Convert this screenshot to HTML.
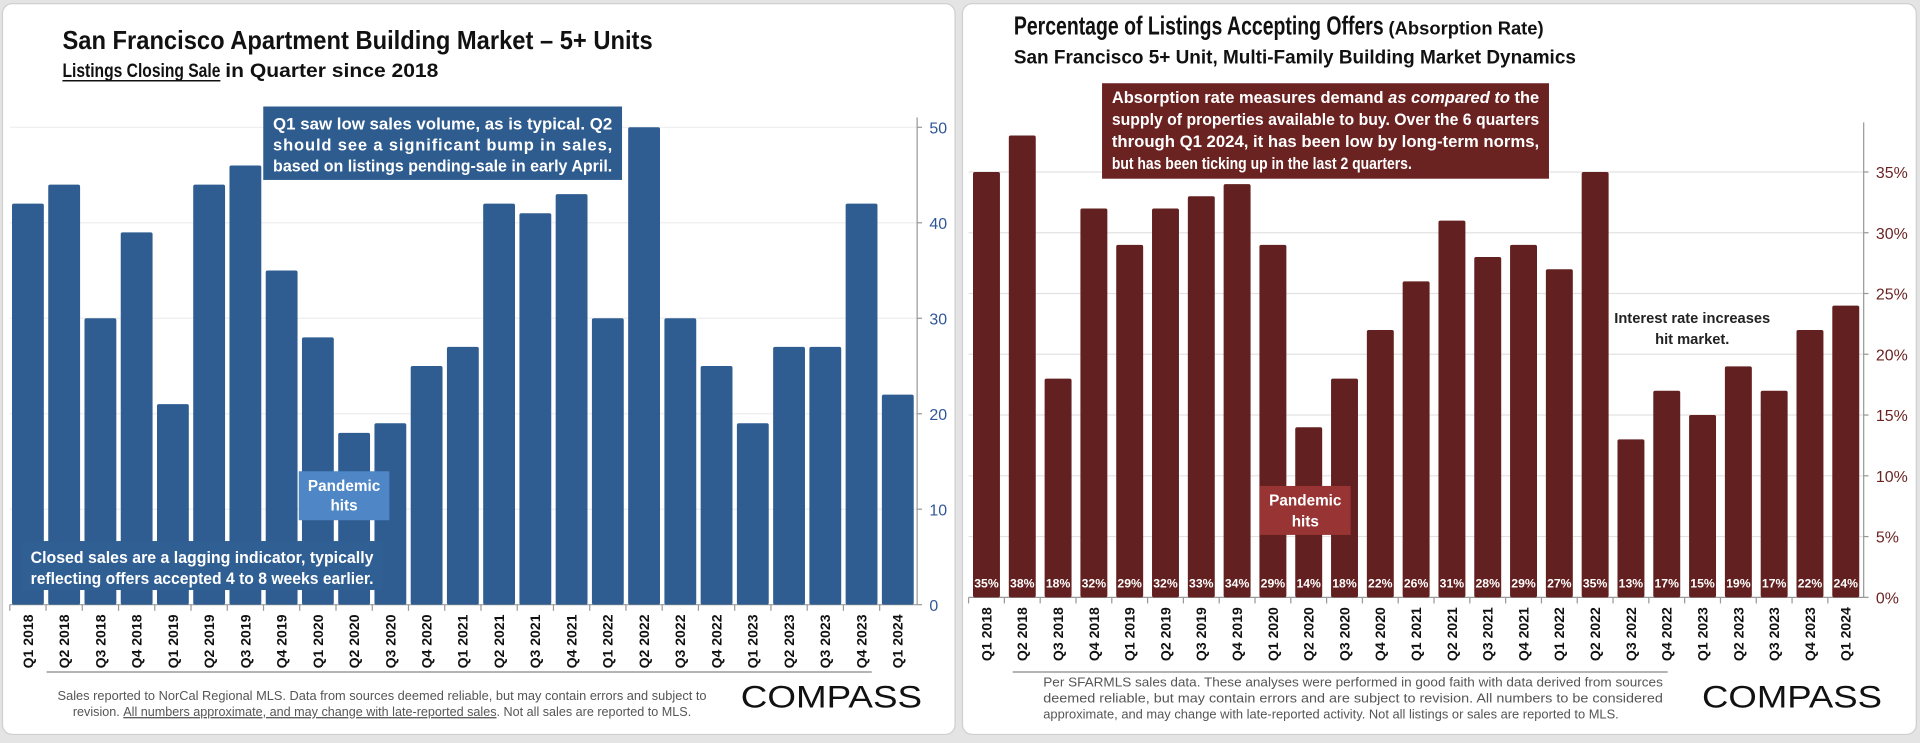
<!DOCTYPE html>
<html><head><meta charset="utf-8">
<style>
html,body{margin:0;padding:0;background:#e4e4e4;}
svg{display:block;}
text{font-family:"Liberation Sans Narrow","Liberation Sans",sans-serif;}
</style></head>
<body>
<svg id="root" width="1920" height="743" viewBox="0 0 1568 607" preserveAspectRatio="none" xmlns="http://www.w3.org/2000/svg">
<rect x="0" y="0" width="1568" height="607" fill="#e4e4e4"/>
<rect x="2" y="3" width="778" height="597" rx="8" fill="#ffffff" stroke="#cfcfcf"/>
<rect x="786" y="3" width="779" height="597" rx="8" fill="#ffffff" stroke="#cfcfcf"/>

<!-- left titles -->
<text x="51" y="40" font-size="21" font-weight="bold" fill="#111" textLength="482" lengthAdjust="spacingAndGlyphs">San Francisco Apartment Building Market – 5+ Units</text>
<g>
<text x="51" y="63" font-size="16" font-weight="bold" fill="#111" textLength="129" lengthAdjust="spacingAndGlyphs">Listings Closing Sale</text>
<text x="184" y="63" font-size="16" font-weight="bold" fill="#111" textLength="174" lengthAdjust="spacingAndGlyphs">in Quarter since 2018</text>
</g>
<line x1="51" y1="66" x2="180" y2="66" stroke="#111" stroke-width="1.2"/>

<g id="leftChart"></g>
<g id="rightChart"></g>

<!-- left annotations -->
<g>
<rect x="215" y="87" width="293" height="60" fill="#2f5c8f"/>
<text x="223" y="106" font-size="13.5" font-weight="bold" fill="#fff" textLength="277" lengthAdjust="spacingAndGlyphs">Q1 saw low sales volume, as is typical. Q2</text>
<text x="223" y="123" font-size="13.5" font-weight="bold" fill="#fff" textLength="277" lengthAdjust="spacing">should see a significant bump in sales,</text>
<text x="223" y="140" font-size="13.5" font-weight="bold" fill="#fff" textLength="277" lengthAdjust="spacingAndGlyphs">based on listings pending-sale in early April.</text>
</g>
<g>
<rect x="244" y="385" width="74" height="40" fill="#4f86c6"/>
<text x="281" y="401" font-size="12.5" font-weight="bold" fill="#fff" text-anchor="middle">Pandemic</text>
<text x="281" y="417" font-size="12.5" font-weight="bold" fill="#fff" text-anchor="middle">hits</text>
</g>
<g>
<rect x="18" y="442" width="295" height="40" fill="#305f93"/>
<text x="25" y="460" font-size="13.5" font-weight="bold" fill="#fff" textLength="280" lengthAdjust="spacingAndGlyphs">Closed sales are a lagging indicator, typically</text>
<text x="25" y="477" font-size="13.5" font-weight="bold" fill="#fff" textLength="280" lengthAdjust="spacingAndGlyphs">reflecting offers accepted 4 to 8 weeks earlier.</text>
</g>

<!-- left footer -->
<line x1="38" y1="549" x2="712" y2="549" stroke="#888" stroke-width="1"/>
<text x="312" y="572" font-size="10.5" fill="#555" text-anchor="middle" textLength="530" lengthAdjust="spacingAndGlyphs">Sales reported to NorCal Regional MLS. Data from sources deemed reliable, but may contain errors and subject to</text>
<text x="312" y="585" font-size="10.5" fill="#555" text-anchor="middle" textLength="505" lengthAdjust="spacingAndGlyphs">revision. <tspan text-decoration="underline">All numbers approximate, and may change with late-reported sales</tspan>. Not all sales are reported to MLS.</text>
<text x="605" y="578" font-size="26" fill="#111" font-family="Liberation Sans, sans-serif" textLength="148" lengthAdjust="spacingAndGlyphs">COMPASS</text>

<!-- right titles -->
<text x="828" y="28" font-size="21" font-weight="bold" fill="#111"><tspan textLength="302" lengthAdjust="spacingAndGlyphs">Percentage of Listings Accepting Offers</tspan><tspan font-size="15" dx="4">(Absorption Rate)</tspan></text>
<text x="828" y="52" font-size="15.5" font-weight="bold" fill="#111" textLength="459" lengthAdjust="spacingAndGlyphs">San Francisco 5+ Unit, Multi-Family Building Market Dynamics</text>

<g>
<rect x="900" y="68" width="365" height="78" fill="#6b2322"/>
<text x="908" y="84" font-size="13.5" font-weight="bold" fill="#fff" textLength="349" lengthAdjust="spacingAndGlyphs">Absorption rate measures demand <tspan font-style="italic">as compared to</tspan> the</text>
<text x="908" y="102" font-size="13.5" font-weight="bold" fill="#fff" textLength="349" lengthAdjust="spacingAndGlyphs">supply of properties available to buy. Over the 6 quarters</text>
<text x="908" y="120" font-size="13.5" font-weight="bold" fill="#fff" textLength="349" lengthAdjust="spacingAndGlyphs">through Q1 2024, it has been low by long-term norms,</text>
<text x="908" y="138" font-size="13.5" font-weight="bold" fill="#fff" textLength="245" lengthAdjust="spacingAndGlyphs">but has been ticking up in the last 2 quarters.</text>
</g>
<g>
<rect x="1029" y="397" width="74" height="40" fill="#993434"/>
<text x="1066" y="413" font-size="12.5" font-weight="bold" fill="#fff" text-anchor="middle">Pandemic</text>
<text x="1066" y="430" font-size="12.5" font-weight="bold" fill="#fff" text-anchor="middle">hits</text>
</g>
<g>
<text x="1382" y="264" font-size="12" font-weight="bold" fill="#222" text-anchor="middle">Interest rate increases</text>
<text x="1382" y="281" font-size="12" font-weight="bold" fill="#222" text-anchor="middle">hit market.</text>
</g>

<line x1="827" y1="549" x2="1362" y2="549" stroke="#888" stroke-width="1"/>
<text x="852" y="561" font-size="10.5" fill="#555" textLength="506" lengthAdjust="spacingAndGlyphs">Per SFARMLS sales data. These analyses were performed in good faith with data derived from sources</text>
<text x="852" y="574" font-size="10.5" fill="#555" textLength="506" lengthAdjust="spacingAndGlyphs">deemed reliable, but may contain errors and are subject to revision. All numbers to be considered</text>
<text x="852" y="587" font-size="10.5" fill="#555" textLength="470" lengthAdjust="spacingAndGlyphs">approximate, and may change with late-reported activity. Not all listings or sales are reported to MLS.</text>
<text x="1390" y="578" font-size="26" fill="#111" font-family="Liberation Sans, sans-serif" textLength="147" lengthAdjust="spacingAndGlyphs">COMPASS</text>
</svg>

<script>
const quarters = ["Q1 2018","Q2 2018","Q3 2018","Q4 2018","Q1 2019","Q2 2019","Q3 2019","Q4 2019","Q1 2020","Q2 2020","Q3 2020","Q4 2020","Q1 2021","Q2 2021","Q3 2021","Q4 2021","Q1 2022","Q2 2022","Q3 2022","Q4 2022","Q1 2023","Q2 2023","Q3 2023","Q4 2023","Q1 2024"];
const salesCounts = [42,44,30,39,21,44,46,35,28,18,19,25,27,42,41,43,30,50,30,25,19,27,27,42,22];
const salesTicks = [0,10,20,30,40,50];
const absorptionRates = [35,38,18,32,29,32,33,34,29,14,18,22,26,31,28,29,27,35,13,17,15,19,17,22,24];
const rateTicks = [0,5,10,15,20,25,30,35];

const NS = "http://www.w3.org/2000/svg";
function mk(tag, attrs, parent){
  const e = document.createElementNS(NS, tag);
  for (const k in attrs) e.setAttribute(k, attrs[k]);
  parent.appendChild(e);
  return e;
}

function drawChart(g, cats, vals, ticks, cfg){
  const n = cats.length;
  const slot = (cfg.x1 - cfg.x0) / n;
  const xC = i => cfg.x0 + slot * (i + 0.5);
  const yS = v => cfg.yBase - v / cfg.vMax * (cfg.yBase - cfg.yTop);
  ticks.forEach(t => {
    if (t > 0) {
      const gl = mk("line", {x1: cfg.x0, x2: cfg.axisX, y1: yS(t), y2: yS(t), stroke: cfg.gridColor, "stroke-width": 1}, g);
      
      
    }
    const tk = mk("line", {x1: cfg.axisX, x2: cfg.axisX + 4, y1: yS(t), y2: yS(t), stroke: "#999", "stroke-width": 1}, g);
    
    
    const tl = mk("text", {x: cfg.axisX + 10, y: yS(t) + 5, "font-size": 13, fill: cfg.tickColor}, g);
    tl.textContent = t + cfg.suffix;
    
    
  });
  const ax = mk("line", {x1: cfg.axisX, x2: cfg.axisX, y1: cfg.axisTop, y2: cfg.yBase, stroke: "#999", "stroke-width": 1}, g);
  
  
  const bx = mk("line", {x1: cfg.x0, x2: cfg.axisX, y1: cfg.yBase, y2: cfg.yBase, stroke: "#999", "stroke-width": 1}, g);
  
  
  vals.forEach((v, i) => {
    const y = yS(v);
    const b = mk("rect", {x: xC(i) - cfg.barW / 2, y: y, width: cfg.barW, height: cfg.yBase - y, rx: 1.5, fill: cfg.barColor}, g);
    
    
    if (cfg.showValues) {
      const vl = mk("text", {x: xC(i), y: cfg.yBase - 8, "font-size": 10, "font-weight": "bold", fill: "#fff", "text-anchor": "middle"}, g);
      vl.textContent = v + "%";
      
      
    }
    const xt = mk("line", {x1: cfg.x0 + slot * i, x2: cfg.x0 + slot * i, y1: cfg.yBase, y2: cfg.yBase + 5, stroke: "#999"}, g);
    
    
    const lx = xC(i) + 4, ly = cfg.yBase + 8;
    const xl = mk("text", {x: lx, y: ly, "font-size": 11.5, "font-weight": "bold", fill: "#111", "text-anchor": "end", "font-family": "Liberation Sans, sans-serif", transform: "rotate(-90 " + lx + " " + ly + ")"}, g);
    xl.textContent = cats[i];
    
    
  });
}

drawChart(document.getElementById("leftChart"), quarters, salesCounts, salesTicks, {
  x0: 8, x1: 748, axisX: 749, axisTop: 96, yBase: 494, yTop: 104, vMax: 50,
  barW: 26, barColor: "#2f5d91", gridColor: "#eeeeee", tickColor: "#2f5597", suffix: "", showValues: false
});
drawChart(document.getElementById("rightChart"), quarters, absorptionRates, rateTicks, {
  x0: 791, x1: 1522, axisX: 1522, axisTop: 100, yBase: 488, yTop: 140.5, vMax: 35,
  barW: 22, barColor: "#632020", gridColor: "#e2e2e2", tickColor: "#6b2322", suffix: "%", showValues: true
});
</script>
</body></html>
